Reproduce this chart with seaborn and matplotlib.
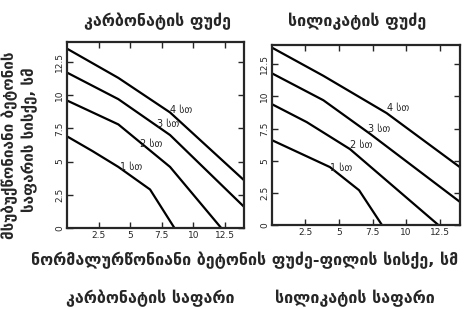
import pandas as pd
import matplotlib
matplotlib.use("Agg")
import matplotlib.pyplot as plt
import seaborn as sns

# Data (thickness in cm)
hours = ["1 სთ", "2 სთ", "3 სთ", "4 სთ"]

# carbonate base
carb_x = {
    "1 სთ": [0, 2.0, 4.06, 6.57, 8.5],
    "2 სთ": [0, 4.06, 8.15, 12.2],
    "3 სთ": [0, 4.06, 8.15, 14],
    "4 სთ": [0, 4.06, 8.15, 14],
}
carb_y = {
    "1 სთ": [6.9, 5.8, 4.6, 2.9, 0],
    "2 სთ": [9.6, 7.8, 4.6, 0],
    "3 სთ": [11.7, 9.7, 7.0, 1.6],
    "4 სთ": [13.5, 11.3, 8.7, 3.6],
}
# silicate base
sil_x = {
    "1 სთ": [0, 4.33, 6.5, 8.2],
    "2 სთ": [0, 2.6, 5.82, 12.4],
    "3 სთ": [0, 3.84, 7.3, 14],
    "4 სთ": [0, 3.84, 8.55, 14],
}
sil_y = {
    "1 სთ": [6.6, 4.5, 2.7, 0],
    "2 სთ": [9.4, 8.0, 5.9, 0],
    "3 სთ": [11.8, 9.7, 7.1, 1.8],
    "4 სთ": [13.8, 11.6, 8.7, 4.5],
}
# label anchor positions for the curve labels
carb_lab = {"1 სთ": (4.2, 4.6), "2 სთ": (5.8, 6.3), "3 სთ": (7.1, 7.8), "4 სთ": (8.15, 8.9)}
sil_lab = {"1 სთ": (4.3, 4.4), "2 სთ": (5.8, 6.2), "3 სთ": (7.2, 7.5), "4 სთ": (8.6, 9.1)}

xticks = [2.5, 5, 7.5, 10, 12.5]
yticks = [0, 2.5, 5, 7.5, 10, 12.5]
tick_labels_x = ["2.5", "5", "7.5", "10", "12.5"]
tick_labels_y = ["0", "2.5", "5", "7.5", "10", "12.5"]


def to_frame(xs, ys):
    rows = []
    for h in hours:
        for a, b in zip(xs[h], ys[h]):
            rows.append({"x": a, "y": b, "h": h})
    return pd.DataFrame(rows)


sns.set_style("ticks")
plt.rcParams["font.family"] = ["DejaVu Sans"]

fig = plt.figure(figsize=(4.67, 3.09), dpi=100)
ax1 = fig.add_axes([0.1435, 0.262, 0.379, 0.602])
ax2 = fig.add_axes([0.582, 0.272, 0.4026, 0.5825])

for ax, xs, ys, labs in [(ax1, carb_x, carb_y, carb_lab), (ax2, sil_x, sil_y, sil_lab)]:
    df = to_frame(xs, ys)
    sns.lineplot(data=df, x="x", y="y", hue="h", palette=["black"] * 4,
                 estimator=None, sort=False, linewidth=1.6, legend=False, ax=ax)
    for h in hours:
        ax.text(labs[h][0], labs[h][1], h, fontsize=7, ha="left", va="center")
    ax.set_xlim(0, 14)
    ax.set_ylim(0, 14)
    ax.set_xticks(xticks)
    ax.set_xticklabels(tick_labels_x, fontsize=6.5)
    ax.set_yticks(yticks)
    ax.set_yticklabels(tick_labels_y, fontsize=6.5, rotation=90, va="center")
    ax.tick_params(direction="in", top=True, right=True, length=4, width=1, pad=2)
    ax.set_xlabel("")
    ax.set_ylabel("")
    for s in ax.spines.values():
        s.set_linewidth(1.6)
        s.set_visible(True)

fig.text(157 / 467, 1 - 21 / 309, "კარბონატის ფუძე", ha="center", va="center",
         fontsize=11.5, fontweight="bold")
fig.text(357 / 467, 1 - 21 / 309, "სილიკატის ფუძე", ha="center", va="center",
         fontsize=11.5, fontweight="bold")
fig.text(245 / 467, 1 - 260 / 309, "ნორმალურწონიანი ბეტონის ფუძე-ფილის სისქე, სმ",
         ha="center", va="center", fontsize=11.5, fontweight="bold")
fig.text(150 / 467, 1 - 298 / 309, "კარბონატის საფარი", ha="center", va="center",
         fontsize=11.5, fontweight="bold")
fig.text(355 / 467, 1 - 298 / 309, "სილიკატის საფარი", ha="center", va="center",
         fontsize=11.5, fontweight="bold")
fig.text(10 / 467, 1 - 145 / 309, "მსუბუქწონიანი ბეტონის", rotation=90,
         ha="center", va="center", fontsize=11, fontweight="bold")
fig.text(30 / 467, 1 - 140 / 309, "საფარის სისქე, სმ", rotation=90,
         ha="center", va="center", fontsize=11, fontweight="bold")

fig.savefig("out.png", dpi=100)
